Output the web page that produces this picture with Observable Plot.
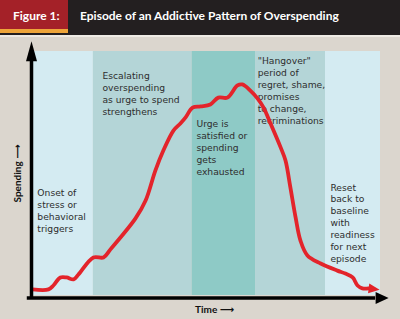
<!DOCTYPE html>
<html>
<head>
<meta charset="utf-8">
<script src="https://cdn.jsdelivr.net/npm/d3@7"></script>
<script src="https://cdn.jsdelivr.net/npm/@observablehq/plot@0.6"></script>
<style>
  html, body { margin: 0; padding: 0; }
  body { width: 400px; height: 319px; overflow: hidden; background: #dbd6ce; }
  #hdr { position: relative; height: 35px; background: #231f20; }
  #fig { position: absolute; left: 0; top: 0; width: 68px; height: 29px; background: #a42128; border-bottom: 4px solid #eea53a; }
  .ht { position: absolute; top: 0; line-height: 31px; color: #fff; font-family: Lato, "Open Sans", sans-serif; font-weight: 700; white-space: nowrap; }
  #sep { height: 2px; background: #eeebe5; }
</style>
</head>
<body>
<div id="hdr">
  <div id="fig"></div>
  <span class="ht" style="left:13px;font-size:12px;">Figure 1:</span>
  <span class="ht" style="left:80px;font-size:12px;">Episode of an Addictive Pattern of Overspending</span>
</div>
<div id="sep"></div>
<div id="chart"></div>
<script>
// Phases of the episode (x in % of episode time)
const phases = ["onset", "escalation", "satisfaction", "hangover", "reset"];
const phaseStart = [0, 17.5, 45.9, 64.1, 84.2];
const phaseEnd = [17.5, 45.9, 64.1, 84.2, 100];
const phaseText = [
  "Onset of\nstress or\nbehavioral\ntriggers",
  "Escalating\noverspending\nas urge to spend\nstrengthens",
  "Urge is\nsatisfied or\nspending\ngets\nexhausted",
  "\"Hangover\"\nperiod of\nregret, shame,\npromises\nto change,\nrecriminations",
  "Reset\nback to\nbaseline\nwith\nreadiness\nfor next\nepisode"
];
const labelX = [1.4, 20.1, 47.1, 64.7, 85.6];
const labelY = [44.1, 92.3, 72.5, 98.2, 46.5];

// Spending curve
const time = [0, 4.6, 6.0, 8.0, 9.8, 11.8, 13.2, 17.5, 20.4, 22.4, 29.6, 32.5, 35.3, 37.6, 40.5, 42.5, 44.0, 46.0, 48.3, 51.1, 53.4, 56.0, 58.9, 60.3, 62.6, 64.7, 66.4, 68.4, 71.3, 72.7, 74.1, 75.6, 77.0, 79.0, 82.8, 87.6, 89.9, 92.0, 93.4, 94.8, 96.6];
const spending = [2.5, 2.5, 4.1, 7.4, 7.4, 6.6, 8.6, 15.6, 15.6, 18.9, 31.6, 38.9, 51.2, 59.4, 67.6, 70.5, 73.0, 77.0, 77.5, 78.3, 81.1, 81.1, 86.1, 86.5, 84.0, 80.7, 77.0, 70.5, 60.7, 55.3, 44.3, 32.0, 22.5, 16.4, 13.1, 10.2, 9.0, 7.4, 4.1, 2.9, 2.9];

const axisTitles = ["Spending \u27F6", "Time \u27F6"];

const phaseData = phases.map((p, i) => ({phase: p, x1: phaseStart[i], x2: phaseEnd[i], text: phaseText[i], lx: labelX[i], ly: labelY[i]}));
const curve = time.map((t, i) => ({t, s: spending[i]}));
const last = curve[curve.length - 1];

// arrowhead symbol: base at origin, tip pointing up
function head(aspect) {
  return {
    draw(ctx, size) {
      const r = Math.sqrt(size / Math.PI);
      ctx.moveTo(0, -2 * r);
      ctx.lineTo(aspect * r, 0);
      ctx.lineTo(-aspect * r, 0);
      ctx.closePath();
    }
  };
}

const bodyFont = "DejaVu Sans, sans-serif";
const chart = Plot.plot({
  width: 400,
  height: 282,
  marginLeft: 32,
  marginRight: 20,
  marginTop: 14,
  marginBottom: 24,
  x: {domain: [0, 100], axis: null},
  y: {domain: [0, 100], axis: null},
  color: {domain: phases, range: ["#d4ebf2", "#b4d5d7", "#8ecac6", "#b4d5d7", "#d4ebf2"]},
  style: {background: "#dbd6ce", overflow: "visible"},
  marks: [
    Plot.rectY(phaseData, {x1: "x1", x2: "x2", y1: 0, y2: 100, fill: "phase"}),
    Plot.text(phaseData, {x: "lx", y: "ly", text: "text", textAnchor: "start", lineAnchor: "top", lineHeight: 1.3, fontSize: 9.2, fontFamily: bodyFont, fill: "#2e2e2e"}),
    Plot.line(curve, {x: "t", y: "s", curve: "catmull-rom", stroke: "#e3242b", strokeWidth: 3.8, strokeLinejoin: "round", strokeLinecap: "round"}),
    Plot.dot([last], {x: "t", y: "s", symbol: head(0.9), r: 5.5, rotate: 97, fill: "#e3242b", stroke: "none"}),
    Plot.ruleX([0], {y1: -1.2, y2: 96, stroke: "#000", strokeWidth: 3.5, dx: -1}),
    Plot.dot([0], {x: 0, y: 96, dx: -1, symbol: head(0.55), r: 10, fill: "#000", stroke: "none"}),
    Plot.ruleY([0], {x1: -1.5, x2: 98.6, stroke: "#000", strokeWidth: 3.5, dy: 2.5}),
    Plot.dot([0], {x: 98.6, y: 0, dy: 2.5, symbol: head(0.92), r: 6.5, rotate: 90, fill: "#000", stroke: "none"}),
    Plot.text([axisTitles[0]], {frameAnchor: "left", dx: -15, rotate: -90, textAnchor: "middle", fontSize: 10, fontWeight: 700, fontFamily: "Lato, DejaVu Sans, sans-serif", fill: "#111"}),
    Plot.text([axisTitles[1]], {frameAnchor: "bottom", dx: 8, dy: 14, textAnchor: "middle", lineAnchor: "middle", fontSize: 10, fontWeight: 700, fontFamily: "Lato, DejaVu Sans, sans-serif", fill: "#111"})
  ]
});
document.getElementById("chart").appendChild(chart);
</script>
</body>
</html>
